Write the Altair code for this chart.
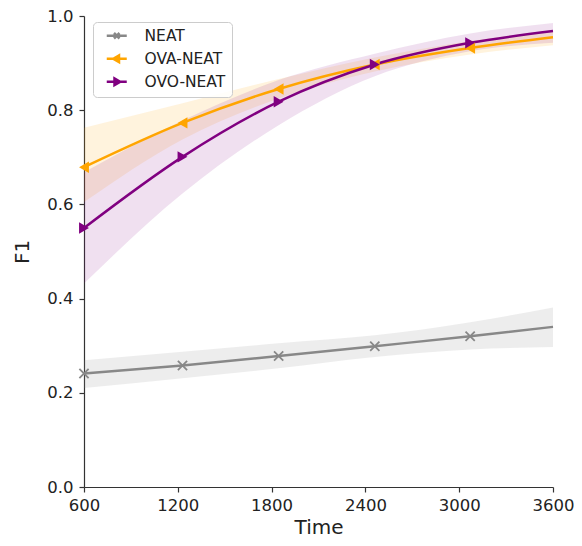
import altair as alt
import pandas as pd

# ---- data ----
times = [600, 1230, 1845, 2460, 3070, 3600]
has_marker = [True, True, True, True, True, False]
series_names = ["NEAT", "OVA-NEAT", "OVO-NEAT"]
series_colors = ["#888888", "#ffa500", "#800080"]
band_alpha = [0.15, 0.12, 0.16]

neat_mean = [0.241, 0.258, 0.278, 0.299, 0.320, 0.340]
neat_lo = [0.210, 0.231, 0.252, 0.276, 0.292, 0.297]
neat_hi = [0.269, 0.287, 0.305, 0.322, 0.350, 0.381]

ova_mean = [0.679, 0.773, 0.845, 0.897, 0.932, 0.955]
ova_lo = [0.605, 0.738, 0.825, 0.882, 0.918, 0.938]
ova_hi = [0.763, 0.815, 0.866, 0.912, 0.947, 0.970]

ovo_mean = [0.550, 0.701, 0.818, 0.897, 0.943, 0.968]
ovo_lo = [0.432, 0.623, 0.768, 0.872, 0.925, 0.943]
ovo_hi = [0.668, 0.778, 0.864, 0.920, 0.963, 0.985]

x_ticks = [600, 1200, 1800, 2400, 3000, 3600]
y_ticks = [0.0, 0.2, 0.4, 0.6, 0.8, 1.0]

rows = []
for name, m, lo, hi in [
    ("NEAT", neat_mean, neat_lo, neat_hi),
    ("OVA-NEAT", ova_mean, ova_lo, ova_hi),
    ("OVO-NEAT", ovo_mean, ovo_lo, ovo_hi),
]:
    for t, mv, l, h, mk in zip(times, m, lo, hi, has_marker):
        rows.append({"time": t, "series": name, "mean": mv, "lo": l, "hi": h, "marker": mk})
df = pd.DataFrame(rows)

# domain left to the data (sorted: NEAT, OVA-NEAT, OVO-NEAT) so that the
# disabled colour legend is not merged with the real legend below
color_scale = alt.Scale(range=series_colors)
opacity_scale = alt.Scale(range=band_alpha)

X_PATH = "M-1,-1L1,1M-1,1L1,-1"
legend_paths = [
    "M-2,0L2,0M-0.55,-0.55L0.55,0.55M-0.55,0.55L0.55,-0.55",
    "M-2,0L2,0M-0.7,0L0.45,-0.65L0.45,0.65Z",
    "M-2,0L2,0M0.7,0L-0.45,-0.65L-0.45,0.65Z",
]

x_enc = alt.X(
    "time:Q",
    scale=alt.Scale(domain=[600, 3600], nice=False, zero=False),
    axis=alt.Axis(values=x_ticks, format="d", title="Time", labelOverlap=False, labelFlush=False),
)
y_enc = alt.Y(
    "mean:Q",
    scale=alt.Scale(domain=[0, 1], nice=False),
    axis=alt.Axis(values=y_ticks, format=".1f", title="F1"),
)

base = alt.Chart(df)

bands = base.mark_area(interpolate="monotone").encode(
    x=x_enc,
    y=alt.Y("lo:Q"),
    y2=alt.Y2("hi:Q"),
    color=alt.Color("series:N", scale=color_scale, legend=None),
    opacity=alt.Opacity("series:N", scale=opacity_scale, legend=None),
)

lines = base.mark_line(strokeWidth=2.5, interpolate="monotone").encode(
    x=x_enc,
    y=y_enc,
    color=alt.Color("series:N", scale=color_scale, legend=None),
)

mk_neat = base.transform_filter(
    (alt.datum.series == "NEAT") & alt.datum.marker
).mark_point(shape=X_PATH, filled=False, stroke="#888888", strokeWidth=1.8, size=85, opacity=1).encode(
    x=x_enc, y=y_enc
)
mk_ova = base.transform_filter(
    (alt.datum.series == "OVA-NEAT") & alt.datum.marker
).mark_point(shape="triangle-left", filled=True, fill="#ffa500", size=130, opacity=1).encode(
    x=x_enc, y=y_enc
)
mk_ovo = base.transform_filter(
    (alt.datum.series == "OVO-NEAT") & alt.datum.marker
).mark_point(shape="triangle-right", filled=True, fill="#800080", size=130, opacity=1).encode(
    x=x_enc, y=y_enc
)

leg = alt.Legend(
    title=None,
    orient="none",
    legendX=9,
    legendY=6,
    labelFont="DejaVu Sans",
    labelFontSize=15.5,
    labelColor="#222222",
    labelOffset=20,
    symbolOffset=10,
    symbolStrokeWidth=2.5,
    rowPadding=5,
    padding=6,
    fillColor="rgba(255,255,255,0.85)",
    strokeColor="#cccccc",
    cornerRadius=4,
)

legend_layer = base.transform_filter(alt.datum.time == 600).mark_point(
    filled=True, strokeWidth=2.5, size=306, opacity=0
).encode(
    x=x_enc,
    y=y_enc,
    fill=alt.Fill("series:N", scale=alt.Scale(domain=series_names, range=series_colors), legend=leg),
    stroke=alt.Stroke("series:N", scale=alt.Scale(domain=series_names, range=series_colors), legend=leg),
    shape=alt.Shape("series:N", scale=alt.Scale(domain=series_names, range=legend_paths), legend=leg),
)

chart = alt.layer(bands, lines, mk_neat, mk_ova, mk_ovo, legend_layer).properties(
    width=469,
    height=471,
    autosize=alt.AutoSizeParams(type="none"),
    padding={"left": 76, "top": 8, "right": 21, "bottom": 51},
).configure_view(stroke=None).configure_axis(
    grid=False,
    domainColor="#333333",
    domainWidth=1.2,
    tickColor="#333333",
    tickWidth=1.2,
    tickSize=5,
    labelFont="DejaVu Sans",
    labelFontSize=16.5,
    labelColor="#222222",
    labelPadding=5,
    titleFont="DejaVu Sans",
    titleFontSize=20,
    titleFontWeight="normal",
    titleColor="#222222",
).configure_axisY(titlePadding=14, labelPadding=6).configure_axisX(titlePadding=4)

chart.save("out.html", embed_options={"renderer": "svg", "actions": False})
